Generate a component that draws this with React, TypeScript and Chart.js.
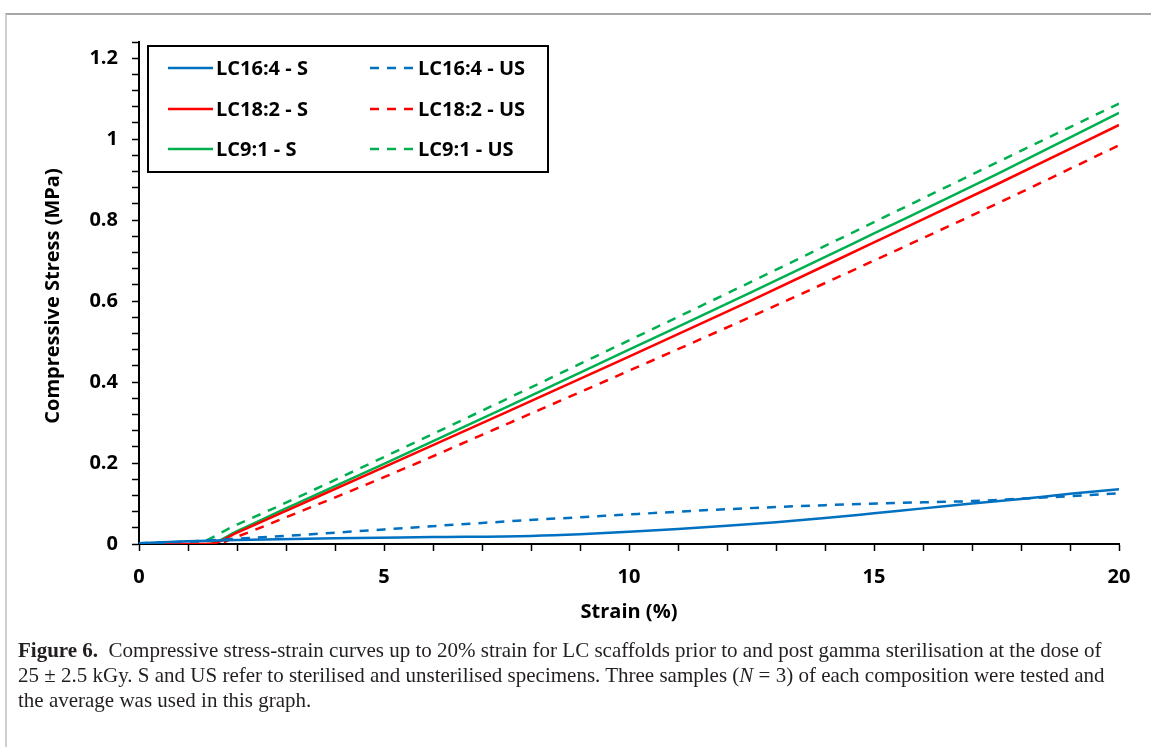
import React, { useEffect, useRef } from "react";
import { Chart, registerables } from "chart.js";

Chart.register(...registerables);

// ---- Data (strain %, compressive stress MPa) ----
const lc164S_strain = [0, 1, 2, 4, 6, 8, 9, 10, 11, 12, 13, 14, 15, 16, 17, 18, 19, 20];
const lc164S_stress = [0.002, 0.007, 0.01, 0.014, 0.017, 0.02, 0.024, 0.03, 0.037, 0.045, 0.054, 0.064, 0.076, 0.088, 0.1, 0.111, 0.124, 0.135];

const lc164US_strain = [0, 1, 2, 3, 5, 7, 10, 12, 14, 16, 17, 18, 19, 20];
const lc164US_stress = [0.002, 0.006, 0.013, 0.02, 0.036, 0.052, 0.073, 0.086, 0.096, 0.103, 0.106, 0.112, 0.118, 0.125];

const lc182S_strain = [0, 1.45, 2, 3, 5, 7.5, 10, 12.5, 15, 17.5, 20];
const lc182S_stress = [0, 0, 0.028, 0.082, 0.19, 0.326, 0.463, 0.602, 0.745, 0.888, 1.035];

const lc182US_strain = [0, 1.55, 2, 3, 5, 7.5, 10, 12.5, 15, 17.5, 20];
const lc182US_stress = [0, 0, 0.018, 0.066, 0.165, 0.296, 0.428, 0.562, 0.7, 0.84, 0.985];

const lc91S_strain = [0, 1.4, 2, 3, 5, 7.5, 10, 12.5, 15, 17.5, 20];
const lc91S_stress = [0, 0, 0.032, 0.088, 0.198, 0.338, 0.48, 0.622, 0.767, 0.913, 1.065];

const lc91US_strain = [0, 1.05, 2, 3, 5, 7.5, 10, 12.5, 15, 17.5, 20];
const lc91US_stress = [0, 0, 0.048, 0.102, 0.215, 0.358, 0.503, 0.648, 0.795, 0.942, 1.088];

const seriesLabels = ["LC16:4 - S", "LC16:4 - US", "LC18:2 - S", "LC18:2 - US", "LC9:1 - S", "LC9:1 - US"];
const seriesColors = ["#0070C0", "#0070C0", "#FF0000", "#FF0000", "#00B050", "#00B050"];
const seriesDashed = [false, true, false, true, false, true];

const xLabelTicks = [0, 5, 10, 15, 20];
const yLabelTicks = [0, 0.2, 0.4, 0.6, 0.8, 1, 1.2];

const xTitle = "Strain (%)";
const yTitle = "Compressive Stress (MPa)";

const DASH = [9, 8];
const FONT = "'Open Sans', 'DejaVu Sans', sans-serif";

if (typeof document !== "undefined") {
  document.body.style.margin = "0";
}

const toPoints = (xs: number[], ys: number[]) => xs.map((x, i) => ({ x, y: ys[i] }));

const allSeries = [
  toPoints(lc164S_strain, lc164S_stress),
  toPoints(lc164US_strain, lc164US_stress),
  toPoints(lc182S_strain, lc182S_stress),
  toPoints(lc182US_strain, lc182US_stress),
  toPoints(lc91S_strain, lc91S_stress),
  toPoints(lc91US_strain, lc91US_stress),
];

const customPlugin = {
  id: "customDecor",
  afterDraw(chart: any) {
    const ctx = chart.ctx as CanvasRenderingContext2D;
    const area = chart.chartArea;
    // y-axis title
    ctx.save();
    ctx.font = `bold 20px ${FONT}`;
    ctx.fillStyle = "#000";
    ctx.textAlign = "center";
    ctx.textBaseline = "middle";
    ctx.translate(53, 296);
    ctx.rotate(-Math.PI / 2);
    ctx.fillText(yTitle, 0, 0);
    ctx.restore();

    // legend box
    const bx = area.left + 9;
    const by = area.top + 4;
    const bw = 400;
    const bh = 126;
    ctx.save();
    ctx.fillStyle = "#fff";
    ctx.fillRect(bx, by, bw, bh);
    ctx.lineWidth = 2;
    ctx.strokeStyle = "#000";
    ctx.strokeRect(bx, by, bw, bh);
    const rowY = [by + 22, by + 63, by + 103];
    const colX = [bx + 20, bx + 222];
    ctx.font = `bold 20px ${FONT}`;
    ctx.textBaseline = "middle";
    ctx.textAlign = "left";
    chart.data.datasets.forEach((ds: any, i: number) => {
      const col = i % 2;
      const row = Math.floor(i / 2);
      const x0 = colX[col];
      const y0 = rowY[row];
      ctx.beginPath();
      ctx.strokeStyle = ds.borderColor;
      ctx.lineWidth = 2.5;
      ctx.setLineDash(ds.borderDash || []);
      ctx.moveTo(x0, y0);
      ctx.lineTo(x0 + 45, y0);
      ctx.stroke();
      ctx.setLineDash([]);
      ctx.fillStyle = "#000";
      ctx.fillText(ds.label, x0 + 48, y0 + 1);
    });
    ctx.restore();
  },
};

export default function App() {
  const canvasRef = useRef<HTMLCanvasElement | null>(null);

  useEffect(() => {
    if (!canvasRef.current) return;
    const chart = new Chart(canvasRef.current, {
      type: "line",
      data: {
        datasets: allSeries.map((pts, i) => ({
          label: seriesLabels[i],
          data: pts,
          borderColor: seriesColors[i],
          backgroundColor: seriesColors[i],
          borderWidth: 2.5,
          borderDash: seriesDashed[i] ? DASH : [],
          pointRadius: 0,
          cubicInterpolationMode: "monotone" as const,
          fill: false,
        })),
      },
      options: {
        animation: false,
        responsive: false,
        devicePixelRatio: 1,
        layout: { padding: { left: 0, top: 42, right: 32, bottom: 0 } },
        plugins: {
          legend: { display: false },
          tooltip: { enabled: false },
        },
        scales: {
          x: {
            type: "linear",
            min: 0,
            max: 20,
            afterFit: (s: any) => {
              s.height = 96;
            },
            border: { display: true, color: "#000", width: 2 },
            grid: {
              drawOnChartArea: false,
              drawTicks: true,
              tickLength: 7,
              tickWidth: 1.5,
              tickColor: "#000",
            },
            ticks: {
              stepSize: 1,
              autoSkip: false,
              maxRotation: 0,
              padding: 14,
              color: "#000",
              font: { family: FONT, size: 20, weight: "bold" },
              callback: (v: any) => (xLabelTicks.includes(Number(v)) ? String(v) : ""),
            },
            title: {
              display: true,
              text: xTitle,
              color: "#000",
              font: { family: FONT, size: 20, weight: "bold" },
              padding: { top: 0, bottom: 16 },
            },
          },
          y: {
            type: "linear",
            min: 0,
            max: 1.24,
            afterFit: (s: any) => {
              s.width = 139;
            },
            border: { display: true, color: "#000", width: 2 },
            grid: {
              drawOnChartArea: false,
              drawTicks: true,
              tickLength: 7,
              tickWidth: 1.5,
              tickColor: "#000",
            },
            ticks: {
              stepSize: 0.04,
              autoSkip: false,
              padding: 14,
              color: "#000",
              font: { family: FONT, size: 20, weight: "bold" },
              callback: (v: any) => {
                const n = Number(v);
                const hit = yLabelTicks.find((t) => Math.abs(t - n) < 1e-6);
                return hit === undefined ? "" : String(hit);
              },
            },
            title: { display: false },
          },
        },
      },
      plugins: [customPlugin],
    });
    return () => chart.destroy();
  }, []);

  return (
    <div
      style={{
        position: "relative",
        width: 1151,
        height: 747,
        overflow: "hidden",
        background: "#fff",
      }}
    >
      <div
        style={{
          position: "absolute",
          left: 5,
          top: 13,
          width: 1200,
          height: 800,
          borderTop: "2px solid #a6a6a6",
          borderLeft: "2px solid #cfcfcf",
        }}
      />
      <canvas
        ref={canvasRef}
        width={1151}
        height={640}
        style={{ position: "absolute", left: 0, top: 0, width: 1151, height: 640 }}
      />
      <div
        style={{
          position: "absolute",
          left: 18,
          top: 638,
          fontFamily: "'Liberation Serif', 'DejaVu Serif', serif",
          fontSize: 21,
          lineHeight: "25px",
          color: "#231f20",
          whiteSpace: "nowrap",
        }}
      >
        <b>Figure 6.</b>&nbsp;&nbsp;Compressive stress-strain curves up to 20% strain for LC scaffolds prior to and post gamma sterilisation at the dose of
        <br />
        25 ± 2.5 kGy. S and US refer to sterilised and unsterilised specimens. Three samples (<i>N</i> = 3) of each composition were tested and
        <br />
        the average was used in this graph.
      </div>
    </div>
  );
}
